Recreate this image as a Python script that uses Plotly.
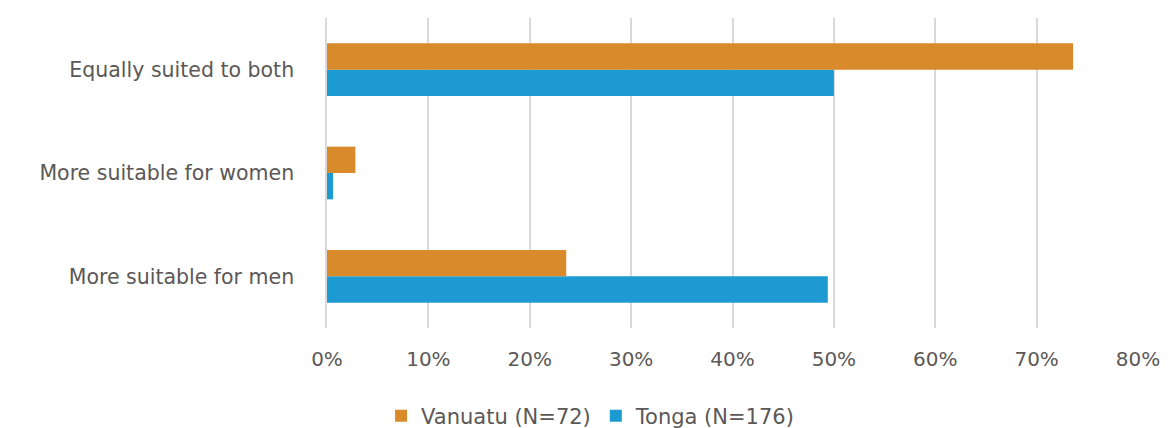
import plotly.graph_objects as go

categories = ["More suitable for men", "More suitable for women", "Equally suited to both"]
vanuatu = [0.236, 0.028, 0.736]
tonga = [0.494, 0.006, 0.500]
x_ticks = [0, 0.1, 0.2, 0.3, 0.4, 0.5, 0.6, 0.7, 0.8]
x_tick_labels = ["0%", "10%", "20%", "30%", "40%", "50%", "60%", "70%", "80%"]

ORANGE = "#D98A2A"
BLUE = "#1C9AD1"
FONT = "'DejaVu Sans', sans-serif"
TEXT = "#5B5857"

fig = go.Figure()
fig.add_trace(go.Bar(y=categories, x=tonga, orientation="h", name="Tonga (N=176)",
                     marker=dict(color=BLUE, line=dict(width=0))))
fig.add_trace(go.Bar(y=categories, x=vanuatu, orientation="h", name="Vanuatu (N=72)",
                     marker=dict(color=ORANGE, line=dict(width=0))))

# the page body adds an 8px offset; the figure is sized to fill the 1168x428 window
fig.update_layout(
    width=1160, height=420,
    margin=dict(l=319, r=30, t=10, b=100, autoexpand=False),
    paper_bgcolor="white", plot_bgcolor="white",
    barmode="group", bargap=0.49, bargroupgap=0,
    font=dict(family=FONT, size=19, color=TEXT),
    showlegend=True,
    legend=dict(orientation="h", traceorder="reversed", x=0.325, xanchor="center",
                y=-0.284, yanchor="middle", font=dict(size=21, color=TEXT),
                itemwidth=30, tracegroupgap=0),
    xaxis=dict(range=[0, 0.8], tickvals=x_ticks, ticktext=x_tick_labels,
               showgrid=True, gridcolor="#D9D9D9", gridwidth=1.5,
               zeroline=False, showline=False, ticks="", ticklabelstandoff=17,
               tickfont=dict(size=20, color=TEXT)),
    yaxis=dict(categoryorder="array", categoryarray=categories, showgrid=False,
               zeroline=False, showline=True, linecolor="#D9D9D9", linewidth=1.5,
               ticks="", ticklabelstandoff=27,
               tickfont=dict(size=20.5, color=TEXT)),
)

fig.write_html("out.html")
